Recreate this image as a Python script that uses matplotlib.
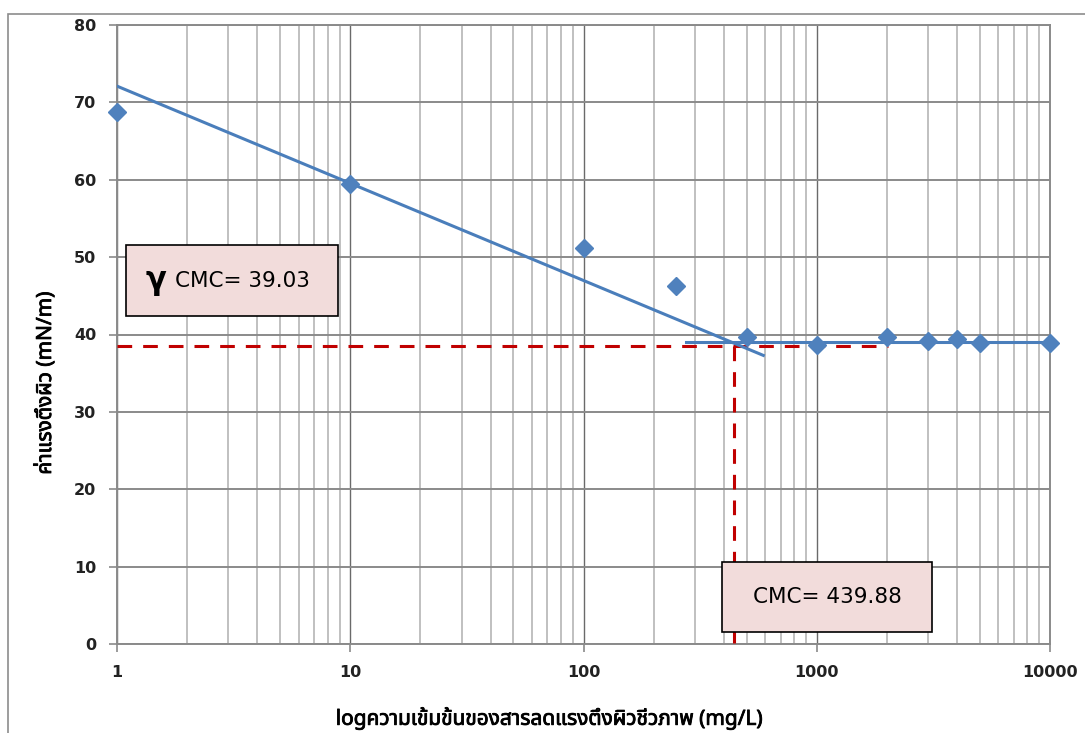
import matplotlib
matplotlib.use("Agg")
import matplotlib.pyplot as plt
import matplotlib.patheffects as pe
import numpy as np
from matplotlib import font_manager
from matplotlib.ft2font import FT2Font
from matplotlib.patches import Rectangle
from matplotlib.ticker import FixedLocator, LogLocator, NullFormatter, FixedFormatter

# ---------------- data ----------------
conc = [1, 10, 100, 250, 500, 1000, 2000, 3000, 4000, 5000, 10000]
tension = [68.7, 59.5, 51.2, 46.3, 39.7, 38.6, 39.7, 39.1, 39.4, 38.9, 38.9]

trend_x = [1, 590]          # falling trend line (drawn in source)
trend_y = [72.1, 37.3]
plateau_x = [275, 10000]    # plateau line
plateau_y = [39.03, 39.03]

cmc_x = 439.88
cmc_y = 38.5
cmc_hline_end = 2020

x_ticks = [1, 10, 100, 1000, 10000]
x_ticklabels = ["1", "10", "100", "1000", "10000"]
y_ticks = [0, 10, 20, 30, 40, 50, 60, 70, 80]

xlabel = "logความเข้มข้นของสารลดแรงตึงผิวชีวภาพ (mg/L)"
ylabel = "ค่าแรงตึงผิว (mN/m)"
box1_text = "CMC= 39.03"
box2_text = "CMC= 439.88"

# ---------------- fonts ----------------
def find_thai_font():
    prefs = ["Tahoma", "Noto Sans Thai", "Noto Sans Thai UI", "Loma", "Garuda",
             "Sarabun", "TH Sarabun New", "Norasi", "Kinnari"]
    found = []
    for f in font_manager.fontManager.ttflist:
        try:
            ft = FT2Font(f.fname)
            if ft.get_char_index(ord("ก")):
                found.append(f.name)
        except Exception:
            pass
    for p in prefs:
        if p in found:
            return p
    return found[0] if found else None

thai = find_thai_font()
label_family = [thai, "DejaVu Sans"] if thai else ["DejaVu Sans"]

plt.rcParams["font.family"] = ["DejaVu Sans"]

W, H = 1085, 733
fig = plt.figure(figsize=(W / 100, H / 100), dpi=100)

def px_to_fig(x, y):
    return x / W, 1 - y / H

# outer border
fig.patches.append(Rectangle((8 / W, -0.2), 1.2, 1.2 - 14 / H, transform=fig.transFigure,
                             fill=False, edgecolor="#8c8c8c", lw=1.2))

l, b = px_to_fig(117, 644)
r, t = px_to_fig(1050, 25)
ax = fig.add_axes([l, b, r - l, t - b])

ax.set_xscale("log")
ax.set_xlim(1, 10000)
ax.set_ylim(0, 80)

# grid
ax.xaxis.set_major_locator(FixedLocator(x_ticks))
ax.xaxis.set_major_formatter(FixedFormatter(x_ticklabels))
ax.xaxis.set_minor_locator(LogLocator(base=10, subs=np.arange(2, 10)))
ax.xaxis.set_minor_formatter(NullFormatter())
ax.set_yticks(y_ticks)
ax.grid(True, which="major", axis="y", color="#8a8a8a", lw=1.4)
ax.grid(True, which="minor", axis="x", color="#c0c0c0", lw=1.4)
ax.grid(True, which="major", axis="x", color="#6a6a6a", lw=1.0)
ax.set_axisbelow(True)

for s in ax.spines.values():
    s.set_color("#8a8a8a")
    s.set_linewidth(1.4)

ax.tick_params(axis="x", which="major", direction="out", length=6, width=1.2,
               color="#8a8a8a", pad=9, labelsize=11.5)
ax.tick_params(axis="x", which="minor", length=0)
ax.tick_params(axis="y", direction="out", length=6, width=1.2,
               color="#8a8a8a", pad=9, labelsize=11.5)
for lab in ax.get_xticklabels() + ax.get_yticklabels():
    lab.set_fontweight("bold")
    lab.set_color("#222222")

# red dashed CMC lines
red = "#C00000"
ax.plot([1, cmc_hline_end], [cmc_y, cmc_y], color=red, lw=2.2, ls=(0, (4.8, 3.6)), zorder=3)
ax.plot([cmc_x, cmc_x], [cmc_y, 0], color=red, lw=2.2, ls=(0, (4.8, 3.6)), zorder=3)

blue = "#4A7EBB"
ax.plot(trend_x, trend_y, color=blue, lw=2.2, zorder=4)
ax.plot(plateau_x, plateau_y, color=blue, lw=2.2, zorder=4)
ax.plot(conc, tension, ls="none", marker="D", ms=9, color="#4F81BD", zorder=5,
        clip_on=False)

# annotation boxes
def box(x0, y0, x1, y1):
    fx0, fy1 = px_to_fig(x0, y0)
    fx1, fy0 = px_to_fig(x1, y1)
    fig.patches.append(Rectangle((fx0, fy0), fx1 - fx0, fy1 - fy0, transform=fig.transFigure,
                                 facecolor="#F2DCDB", edgecolor="black", lw=1.2, zorder=10))

box(126, 245, 338, 316)
box(722, 562, 932, 632)

gx, gy = px_to_fig(156, 281)
fig.text(gx, gy, "γ", fontsize=22, fontweight="bold", ha="center", va="center", zorder=11)
tx, ty = px_to_fig(242, 281)
fig.text(tx, ty, box1_text, fontsize=15.5, ha="center", va="center", zorder=11)
tx, ty = px_to_fig(827, 597)
fig.text(tx, ty, box2_text, fontsize=15.5, ha="center", va="center", zorder=11)

# axis labels (fake bold via stroke, Thai font may lack bold face)
bold = [pe.withStroke(linewidth=0.6, foreground="black")]
lx, ly = px_to_fig(549, 718)
fig.text(lx, ly, xlabel, fontsize=15, fontweight="bold", ha="center", va="center",
         family=label_family, path_effects=bold)
lx, ly = px_to_fig(45, 383)
fig.text(lx, ly, ylabel, fontsize=15, fontweight="bold", ha="center", va="center",
         rotation=90, family=label_family, path_effects=bold)

fig.savefig("out.png", dpi=100)
